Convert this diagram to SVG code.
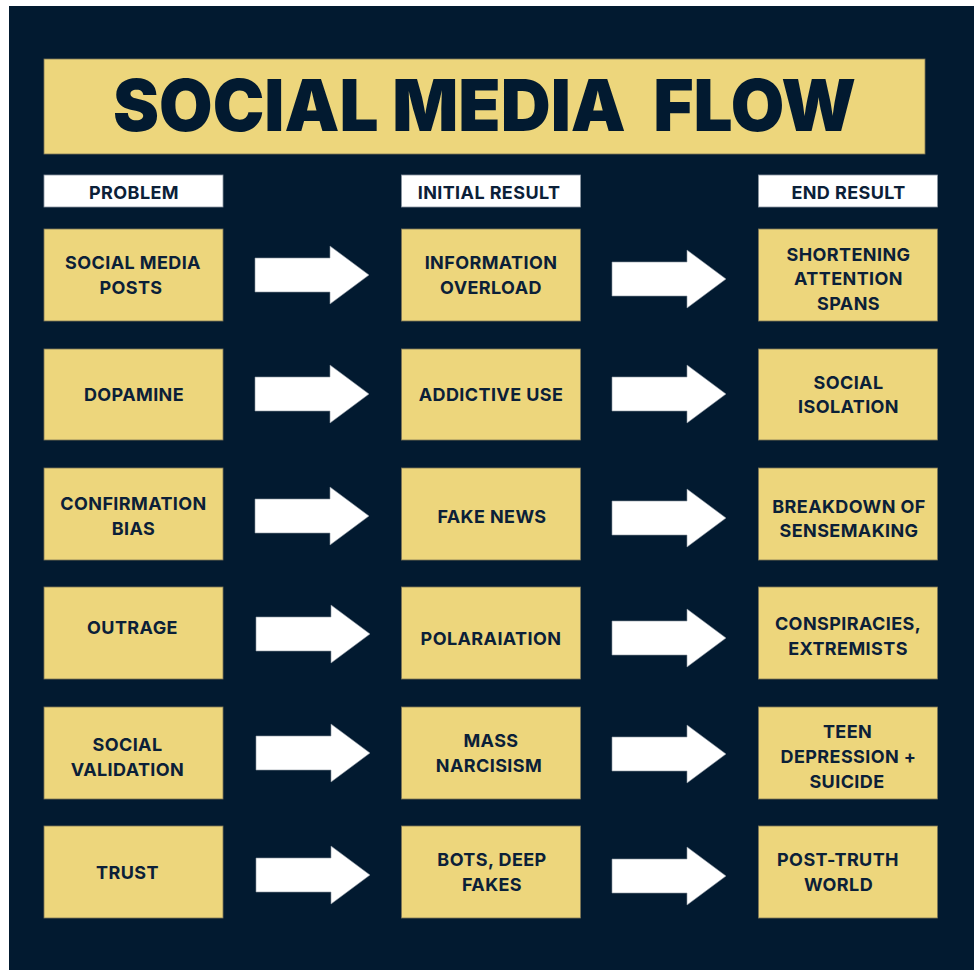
<svg xmlns="http://www.w3.org/2000/svg" width="974" height="970" viewBox="0 0 974 970">
  <defs>
    <style>
      .bg { fill: #021a30; }
      .banner { fill: #edd67c; stroke: #7d7556; stroke-width: 0.8; }
      .head { fill: #ffffff; stroke: #8a94a0; stroke-width: 0.8; }
      .box { fill: #edd67c; stroke: #7d7556; stroke-width: 0.8; }
      .arrow { fill: #ffffff; stroke: #8a94a0; stroke-width: 0.6; }
      .title { font-family: "Inter", "Liberation Sans", "DejaVu Sans", sans-serif; font-weight: 900; font-size: 72px; fill: #021a30; }
      .lbl { font-family: "Inter", "Liberation Sans", "DejaVu Sans", sans-serif; font-weight: 700; font-size: 18px; letter-spacing: 0.4px; fill: #0b2038; text-anchor: middle; }
    </style>
    <path id="arr" d="M0,-17 H75 V-29 L114,0 L75,29 V17 H0 Z"/>
  </defs>

  <!-- page -->
  <rect x="0" y="0" width="974" height="970" fill="#ffffff"/>
  <rect class="bg" x="9" y="6" width="965" height="964"/>

  <!-- title banner -->
  <g id="title">
    <rect class="banner" x="44" y="59" width="881" height="95"/>
    <text class="title" x="113" y="131" textLength="743" lengthAdjust="spacingAndGlyphs">SOCIAL MEDIA&#160; FLOW</text>
  </g>

  <!-- column headers -->
  <g id="hdr-problem">
    <rect class="head" x="44" y="175" width="179" height="32"/>
    <text class="lbl" x="134" y="199">PROBLEM</text>
  </g>
  <g id="hdr-initial">
    <rect class="head" x="401.5" y="175" width="179" height="32"/>
    <text class="lbl" x="489" y="199">INITIAL RESULT</text>
  </g>
  <g id="hdr-end">
    <rect class="head" x="758.5" y="175" width="179" height="32"/>
    <text class="lbl" x="848.5" y="199">END RESULT</text>
  </g>

  <!-- connectors -->
  <g id="connectors">
    <use href="#arr" class="arrow" x="255" y="275"/>
    <use href="#arr" class="arrow" x="612" y="279"/>
    <use href="#arr" class="arrow" x="255" y="394"/>
    <use href="#arr" class="arrow" x="612" y="394"/>
    <use href="#arr" class="arrow" x="255" y="516"/>
    <use href="#arr" class="arrow" x="612" y="518"/>
    <use href="#arr" class="arrow" x="256" y="634"/>
    <use href="#arr" class="arrow" x="612" y="638"/>
    <use href="#arr" class="arrow" x="256" y="753"/>
    <use href="#arr" class="arrow" x="612" y="754"/>
    <use href="#arr" class="arrow" x="256" y="875"/>
    <use href="#arr" class="arrow" x="612" y="876"/>
  </g>

  <!-- row 1 -->
  <g id="p1">
    <rect class="box" x="44" y="229" width="179" height="92"/>
    <text class="lbl" x="133" y="269">SOCIAL MEDIA</text>
    <text class="lbl" x="131" y="294">POSTS</text>
  </g>
  <g id="i1">
    <rect class="box" x="401.5" y="229" width="179" height="92"/>
    <text class="lbl" x="491" y="269">INFORMATION</text>
    <text class="lbl" x="491" y="294">OVERLOAD</text>
  </g>
  <g id="e1">
    <rect class="box" x="758.5" y="229" width="179" height="92"/>
    <text class="lbl" x="848.5" y="261">SHORTENING</text>
    <text class="lbl" x="848.5" y="285">ATTENTION</text>
    <text class="lbl" x="848.5" y="310">SPANS</text>
  </g>

  <!-- row 2 -->
  <g id="p2">
    <rect class="box" x="44" y="349" width="179" height="91"/>
    <text class="lbl" x="134" y="401">DOPAMINE</text>
  </g>
  <g id="i2">
    <rect class="box" x="401.5" y="349" width="179" height="91"/>
    <text class="lbl" x="491" y="401">ADDICTIVE USE</text>
  </g>
  <g id="e2">
    <rect class="box" x="758.5" y="349" width="179" height="91"/>
    <text class="lbl" x="848.5" y="389">SOCIAL</text>
    <text class="lbl" x="848.5" y="413">ISOLATION</text>
  </g>

  <!-- row 3 -->
  <g id="p3">
    <rect class="box" x="44" y="468" width="179" height="92"/>
    <text class="lbl" x="133.5" y="510">CONFIRMATION</text>
    <text class="lbl" x="133.5" y="535">BIAS</text>
  </g>
  <g id="i3">
    <rect class="box" x="401.5" y="468" width="179" height="92"/>
    <text class="lbl" x="492" y="523">FAKE NEWS</text>
  </g>
  <g id="e3">
    <rect class="box" x="758.5" y="468" width="179" height="92"/>
    <text class="lbl" x="849" y="513">BREAKDOWN OF</text>
    <text class="lbl" x="849" y="537">SENSEMAKING</text>
  </g>

  <!-- row 4 -->
  <g id="p4">
    <rect class="box" x="44" y="587" width="179" height="92"/>
    <text class="lbl" x="132.5" y="634">OUTRAGE</text>
  </g>
  <g id="i4">
    <rect class="box" x="401.5" y="587" width="179" height="92"/>
    <text class="lbl" x="491" y="645">POLARAIATION</text>
  </g>
  <g id="e4">
    <rect class="box" x="758.5" y="587" width="179" height="92"/>
    <text class="lbl" x="848" y="630">CONSPIRACIES,</text>
    <text class="lbl" x="848" y="655">EXTREMISTS</text>
  </g>

  <!-- row 5 -->
  <g id="p5">
    <rect class="box" x="44" y="707" width="179" height="92"/>
    <text class="lbl" x="127.5" y="751">SOCIAL</text>
    <text class="lbl" x="127.5" y="776">VALIDATION</text>
  </g>
  <g id="i5">
    <rect class="box" x="401.5" y="707" width="179" height="92"/>
    <text class="lbl" x="491" y="747">MASS</text>
    <text class="lbl" x="489" y="772">NARCISISM</text>
  </g>
  <g id="e5">
    <rect class="box" x="758.5" y="707" width="179" height="92"/>
    <text class="lbl" x="847.5" y="738">TEEN</text>
    <text class="lbl" x="848.5" y="763">DEPRESSION +</text>
    <text class="lbl" x="847" y="788">SUICIDE</text>
  </g>

  <!-- row 6 -->
  <g id="p6">
    <rect class="box" x="44" y="826" width="179" height="92"/>
    <text class="lbl" x="127.5" y="879">TRUST</text>
  </g>
  <g id="i6">
    <rect class="box" x="401.5" y="826" width="179" height="92"/>
    <text class="lbl" x="492" y="866">BOTS, DEEP</text>
    <text class="lbl" x="492" y="891">FAKES</text>
  </g>
  <g id="e6">
    <rect class="box" x="758.5" y="826" width="179" height="92"/>
    <text class="lbl" x="838" y="866">POST-TRUTH</text>
    <text class="lbl" x="838.5" y="891">WORLD</text>
  </g>
</svg>
